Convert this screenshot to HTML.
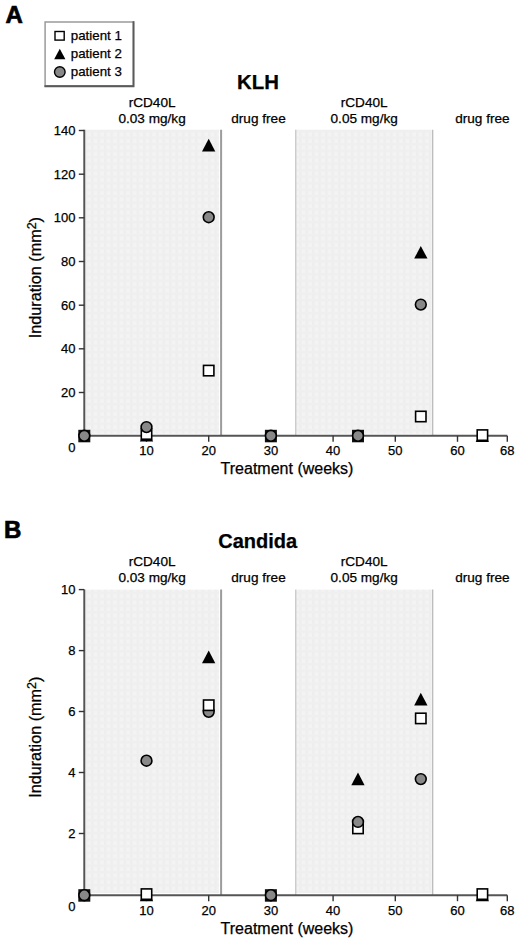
<!DOCTYPE html>
<html><head><meta charset="utf-8"><style>
html,body{margin:0;padding:0;background:#fff;}
svg{display:block;font-family:"Liberation Sans",sans-serif;}
text{stroke:#000;stroke-width:0.25px;}
</style></head><body>
<svg width="520" height="943" viewBox="0 0 520 943">
<defs>
<pattern id="pat" width="6.5" height="6.5" patternUnits="userSpaceOnUse">
<rect width="6.5" height="6.5" fill="#f3f3f3"/>
<rect width="2.5" height="6.5" fill="#eeeeee"/>
<rect width="6.5" height="2.5" fill="#efefef"/>
</pattern>
<filter id="sh" x="-10%" y="-10%" width="130%" height="130%">
<feDropShadow dx="1.2" dy="1.2" stdDeviation="0.6" flood-color="#000" flood-opacity="0.45"/>
</filter>
</defs>

<rect x="45.1" y="22" width="88.4" height="63.8" fill="#fff" stroke="#9a9a9a" stroke-width="1.5"/>
<path d="M133.5 21.3 V86.2 H44.4" fill="none" stroke="#5a5a5a" stroke-width="1.9"/>

<rect x="85.8" y="129.7" width="133.3" height="304.1" fill="url(#pat)"/>
<rect x="295.8" y="129.7" width="135.3" height="304.1" fill="url(#pat)"/>
<line x1="221.1" y1="129.7" x2="221.1" y2="435.8" stroke="#9c9c9c" stroke-width="2"/>
<line x1="295.8" y1="129.7" x2="295.8" y2="435.8" stroke="#b8b8b8" stroke-width="1"/>
<line x1="432.6" y1="129.7" x2="432.6" y2="435.8" stroke="#bdbdbd" stroke-width="1.5"/>
<path d="M84.3 129.7 V435.8 H507.3" fill="none" stroke="#555" stroke-width="2"/>
<line x1="78.8" y1="392.5" x2="84.3" y2="392.5" stroke="#333" stroke-width="1.4"/>
<text x="75.5" y="396.8" font-size="13" text-anchor="end" font-weight="normal" >20</text>
<line x1="78.8" y1="348.8" x2="84.3" y2="348.8" stroke="#333" stroke-width="1.4"/>
<text x="75.5" y="353.1" font-size="13" text-anchor="end" font-weight="normal" >40</text>
<line x1="78.8" y1="305.2" x2="84.3" y2="305.2" stroke="#333" stroke-width="1.4"/>
<text x="75.5" y="309.5" font-size="13" text-anchor="end" font-weight="normal" >60</text>
<line x1="78.8" y1="261.5" x2="84.3" y2="261.5" stroke="#333" stroke-width="1.4"/>
<text x="75.5" y="265.8" font-size="13" text-anchor="end" font-weight="normal" >80</text>
<line x1="78.8" y1="217.8" x2="84.3" y2="217.8" stroke="#333" stroke-width="1.4"/>
<text x="75.5" y="222.1" font-size="13" text-anchor="end" font-weight="normal" >100</text>
<line x1="78.8" y1="174.2" x2="84.3" y2="174.2" stroke="#333" stroke-width="1.4"/>
<text x="75.5" y="178.5" font-size="13" text-anchor="end" font-weight="normal" >120</text>
<line x1="78.8" y1="130.5" x2="84.3" y2="130.5" stroke="#333" stroke-width="1.4"/>
<text x="75.5" y="134.8" font-size="13" text-anchor="end" font-weight="normal" >140</text>
<text x="75.5" y="451.8" font-size="13" text-anchor="end" font-weight="normal" >0</text>
<line x1="146.5" y1="435.8" x2="146.5" y2="441.8" stroke="#333" stroke-width="1.4"/>
<text x="146.5" y="455.4" font-size="13" text-anchor="middle" font-weight="normal" >10</text>
<line x1="208.7" y1="435.8" x2="208.7" y2="441.8" stroke="#333" stroke-width="1.4"/>
<text x="208.7" y="455.4" font-size="13" text-anchor="middle" font-weight="normal" >20</text>
<line x1="270.9" y1="435.8" x2="270.9" y2="441.8" stroke="#333" stroke-width="1.4"/>
<text x="270.9" y="455.4" font-size="13" text-anchor="middle" font-weight="normal" >30</text>
<line x1="333.1" y1="435.8" x2="333.1" y2="441.8" stroke="#333" stroke-width="1.4"/>
<text x="333.1" y="455.4" font-size="13" text-anchor="middle" font-weight="normal" >40</text>
<line x1="395.3" y1="435.8" x2="395.3" y2="441.8" stroke="#333" stroke-width="1.4"/>
<text x="395.3" y="455.4" font-size="13" text-anchor="middle" font-weight="normal" >50</text>
<line x1="457.5" y1="435.8" x2="457.5" y2="441.8" stroke="#333" stroke-width="1.4"/>
<text x="457.5" y="455.4" font-size="13" text-anchor="middle" font-weight="normal" >60</text>
<line x1="507.3" y1="435.8" x2="507.3" y2="441.8" stroke="#333" stroke-width="1.4"/>
<text x="507.3" y="455.4" font-size="13" text-anchor="middle" font-weight="normal" >68</text>
<text x="152.1" y="107.3" font-size="13.6" text-anchor="middle" font-weight="normal" >rCD40L</text>
<text x="152.1" y="123.4" font-size="13.6" text-anchor="middle" font-weight="normal" >0.03 mg/kg</text>
<text x="258.5" y="123.4" font-size="13.6" text-anchor="middle" font-weight="normal" >drug free</text>
<text x="364.2" y="107.3" font-size="13.6" text-anchor="middle" font-weight="normal" >rCD40L</text>
<text x="364.2" y="123.4" font-size="13.6" text-anchor="middle" font-weight="normal" >0.05 mg/kg</text>
<text x="482.4" y="123.4" font-size="13.6" text-anchor="middle" font-weight="normal" >drug free</text>
<text x="258.0" y="89.3" font-size="20.4" text-anchor="middle" font-weight="bold" >KLH</text>
<text x="5.5" y="23.2" font-size="24" text-anchor="start" font-weight="bold" style="stroke-width:0.7px">A</text>
<text x="287.0" y="474.4" font-size="16" text-anchor="middle" font-weight="normal" >Treatment (weeks)</text>
<text transform="translate(40.5,277.6) rotate(-90)" font-size="16.2" text-anchor="middle">Induration (mm<tspan dy="-5" font-size="12.5">2</tspan><tspan dy="5">)</tspan></text>
<rect x="78.3" y="429.8" width="12" height="12.5" fill="#111"/>
<circle cx="84.3" cy="435.8" r="5.4" fill="#888888" stroke="#000" stroke-width="1.6"/>
<path d="M146.5 428.7 L153.2 441.4 L139.8 441.4 Z" fill="#000"/>
<rect x="141.3" y="428.8" width="10.4" height="10.4" fill="#fff" stroke="#000" stroke-width="1.6"/>
<circle cx="146.5" cy="427.1" r="5.4" fill="#888888" stroke="#000" stroke-width="1.6"/>
<rect x="203.5" y="365.4" width="10.4" height="10.4" fill="#fff" stroke="#000" stroke-width="1.6"/>
<circle cx="208.7" cy="217.2" r="5.4" fill="#888888" stroke="#000" stroke-width="1.6"/>
<path d="M208.7 138.8 L215.3 151.5 L202.0 151.5 Z" fill="#000"/>
<rect x="264.9" y="429.8" width="12" height="12.5" fill="#111"/>
<circle cx="270.9" cy="435.8" r="5.4" fill="#888888" stroke="#000" stroke-width="1.6"/>
<rect x="352.0" y="429.8" width="12" height="12.5" fill="#111"/>
<circle cx="358.0" cy="435.8" r="5.4" fill="#888888" stroke="#000" stroke-width="1.6"/>
<rect x="415.6" y="411.3" width="10.4" height="10.4" fill="#fff" stroke="#000" stroke-width="1.6"/>
<circle cx="420.8" cy="304.6" r="5.4" fill="#888888" stroke="#000" stroke-width="1.6"/>
<path d="M420.8 245.9 L427.5 258.6 L414.2 258.6 Z" fill="#000"/>
<path d="M482.4 429.4 L489.0 442.1 L475.7 442.1 Z" fill="#000"/>
<rect x="477.2" y="429.9" width="10.4" height="10.4" fill="#fff" stroke="#000" stroke-width="1.6"/>
<rect x="85.8" y="589.6" width="133.3" height="303.6" fill="url(#pat)"/>
<rect x="295.8" y="589.6" width="135.3" height="303.6" fill="url(#pat)"/>
<line x1="221.1" y1="589.6" x2="221.1" y2="895.2" stroke="#9c9c9c" stroke-width="2"/>
<line x1="295.8" y1="589.6" x2="295.8" y2="895.2" stroke="#b8b8b8" stroke-width="1"/>
<line x1="432.6" y1="589.6" x2="432.6" y2="895.2" stroke="#bdbdbd" stroke-width="1.5"/>
<path d="M84.3 589.6 V895.2 H507.3" fill="none" stroke="#555" stroke-width="2"/>
<line x1="78.8" y1="833.5" x2="84.3" y2="833.5" stroke="#333" stroke-width="1.4"/>
<text x="75.5" y="837.8" font-size="13" text-anchor="end" font-weight="normal" >2</text>
<line x1="78.8" y1="772.5" x2="84.3" y2="772.5" stroke="#333" stroke-width="1.4"/>
<text x="75.5" y="776.8" font-size="13" text-anchor="end" font-weight="normal" >4</text>
<line x1="78.8" y1="711.5" x2="84.3" y2="711.5" stroke="#333" stroke-width="1.4"/>
<text x="75.5" y="715.8" font-size="13" text-anchor="end" font-weight="normal" >6</text>
<line x1="78.8" y1="650.6" x2="84.3" y2="650.6" stroke="#333" stroke-width="1.4"/>
<text x="75.5" y="654.9" font-size="13" text-anchor="end" font-weight="normal" >8</text>
<line x1="78.8" y1="589.6" x2="84.3" y2="589.6" stroke="#333" stroke-width="1.4"/>
<text x="75.5" y="593.9" font-size="13" text-anchor="end" font-weight="normal" >10</text>
<text x="75.5" y="911.2" font-size="13" text-anchor="end" font-weight="normal" >0</text>
<line x1="146.5" y1="895.2" x2="146.5" y2="901.2" stroke="#333" stroke-width="1.4"/>
<text x="146.5" y="914.8" font-size="13" text-anchor="middle" font-weight="normal" >10</text>
<line x1="208.7" y1="895.2" x2="208.7" y2="901.2" stroke="#333" stroke-width="1.4"/>
<text x="208.7" y="914.8" font-size="13" text-anchor="middle" font-weight="normal" >20</text>
<line x1="270.9" y1="895.2" x2="270.9" y2="901.2" stroke="#333" stroke-width="1.4"/>
<text x="270.9" y="914.8" font-size="13" text-anchor="middle" font-weight="normal" >30</text>
<line x1="333.1" y1="895.2" x2="333.1" y2="901.2" stroke="#333" stroke-width="1.4"/>
<text x="333.1" y="914.8" font-size="13" text-anchor="middle" font-weight="normal" >40</text>
<line x1="395.3" y1="895.2" x2="395.3" y2="901.2" stroke="#333" stroke-width="1.4"/>
<text x="395.3" y="914.8" font-size="13" text-anchor="middle" font-weight="normal" >50</text>
<line x1="457.5" y1="895.2" x2="457.5" y2="901.2" stroke="#333" stroke-width="1.4"/>
<text x="457.5" y="914.8" font-size="13" text-anchor="middle" font-weight="normal" >60</text>
<line x1="507.3" y1="895.2" x2="507.3" y2="901.2" stroke="#333" stroke-width="1.4"/>
<text x="507.3" y="914.8" font-size="13" text-anchor="middle" font-weight="normal" >68</text>
<text x="152.1" y="565.8" font-size="13.6" text-anchor="middle" font-weight="normal" >rCD40L</text>
<text x="152.1" y="581.9" font-size="13.6" text-anchor="middle" font-weight="normal" >0.03 mg/kg</text>
<text x="258.5" y="581.9" font-size="13.6" text-anchor="middle" font-weight="normal" >drug free</text>
<text x="364.2" y="565.8" font-size="13.6" text-anchor="middle" font-weight="normal" >rCD40L</text>
<text x="364.2" y="581.9" font-size="13.6" text-anchor="middle" font-weight="normal" >0.05 mg/kg</text>
<text x="482.4" y="581.9" font-size="13.6" text-anchor="middle" font-weight="normal" >drug free</text>
<text x="257.7" y="547.8" font-size="20" text-anchor="middle" font-weight="bold" >Candida</text>
<text x="4.0" y="538.0" font-size="24" text-anchor="start" font-weight="bold" style="stroke-width:0.7px">B</text>
<text x="287.0" y="933.8" font-size="16" text-anchor="middle" font-weight="normal" >Treatment (weeks)</text>
<text transform="translate(40.5,737.2) rotate(-90)" font-size="16.2" text-anchor="middle">Induration (mm<tspan dy="-5" font-size="12.5">2</tspan><tspan dy="5">)</tspan></text>
<rect x="78.3" y="889.2" width="12" height="12.5" fill="#111"/>
<circle cx="84.3" cy="895.2" r="5.4" fill="#888888" stroke="#000" stroke-width="1.6"/>
<path d="M146.5 888.5 L153.2 901.2 L139.8 901.2 Z" fill="#000"/>
<rect x="141.3" y="888.9" width="10.4" height="10.4" fill="#fff" stroke="#000" stroke-width="1.6"/>
<circle cx="146.5" cy="760.7" r="5.4" fill="#888888" stroke="#000" stroke-width="1.6"/>
<path d="M208.7 650.6 L215.3 663.3 L202.0 663.3 Z" fill="#000"/>
<circle cx="208.7" cy="711.8" r="5.4" fill="#888888" stroke="#000" stroke-width="1.6"/>
<rect x="203.5" y="700.0" width="10.4" height="10.4" fill="#fff" stroke="#000" stroke-width="1.6"/>
<rect x="264.9" y="889.2" width="12" height="12.5" fill="#111"/>
<circle cx="270.9" cy="895.2" r="5.4" fill="#888888" stroke="#000" stroke-width="1.6"/>
<path d="M358.0 772.5 L364.6 785.2 L351.3 785.2 Z" fill="#000"/>
<rect x="352.8" y="823.2" width="10.4" height="10.4" fill="#fff" stroke="#000" stroke-width="1.6"/>
<circle cx="358.0" cy="821.9" r="5.4" fill="#888888" stroke="#000" stroke-width="1.6"/>
<path d="M420.8 692.8 L427.5 705.5 L414.2 705.5 Z" fill="#000"/>
<rect x="415.6" y="713.2" width="10.4" height="10.4" fill="#fff" stroke="#000" stroke-width="1.6"/>
<circle cx="420.8" cy="779.1" r="5.4" fill="#888888" stroke="#000" stroke-width="1.6"/>
<path d="M482.4 888.5 L489.0 901.2 L475.7 901.2 Z" fill="#000"/>
<rect x="477.2" y="888.9" width="10.4" height="10.4" fill="#fff" stroke="#000" stroke-width="1.6"/>
<rect x="55" y="31.5" width="9.2" height="8.6" fill="#fff" stroke="#000" stroke-width="1.4"/>
<path d="M59.8 48.7 L65.4 59.2 L54.2 59.2 Z" fill="#000"/>
<circle cx="59.8" cy="72" r="5.3" fill="#888888" stroke="#000" stroke-width="1.4"/>
<text x="70.8" y="40.3" font-size="13.3" text-anchor="start" font-weight="normal" >patient 1</text>
<text x="70.8" y="57.8" font-size="13.3" text-anchor="start" font-weight="normal" >patient 2</text>
<text x="70.8" y="75.5" font-size="13.3" text-anchor="start" font-weight="normal" >patient 3</text>
</svg>
</body></html>
